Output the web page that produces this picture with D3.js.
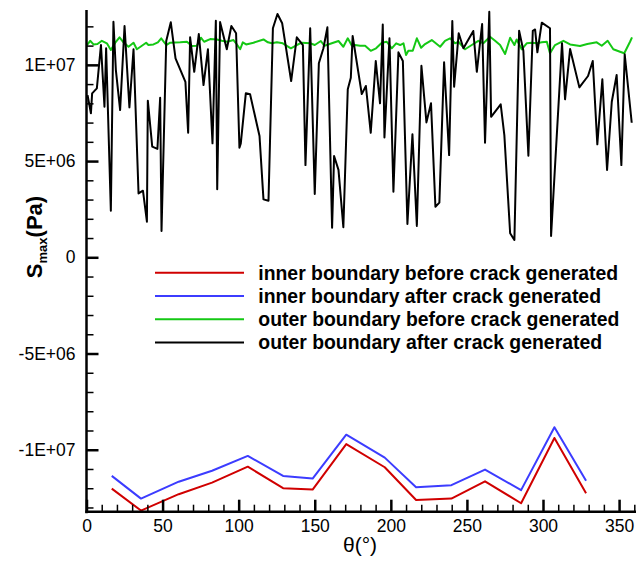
<!DOCTYPE html>
<html>
<head>
<meta charset="utf-8">
<script src="https://cdn.jsdelivr.net/npm/d3@7"></script>
<style>
  html, body { margin: 0; padding: 0; background: #fff; }
  svg { display: block; font-family: "Liberation Sans", Arial, Helvetica, sans-serif; }
</style>
</head>
<body>
<svg id="chart" width="636" height="561"></svg>
<script>
// Angle (degrees) and S_max values (units of 1E6 Pa) for each boundary curve
const innerTheta = [16.6, 35.8, 60.6, 82.5, 106.0, 129.2, 148.6, 170.7, 196.0, 216.6, 239.8, 261.9, 285.6, 307.5, 328.3];
const innerBefore = [-12.02, -13.16, -12.31, -11.71, -10.88, -12.00, -12.07, -9.71, -10.91, -12.61, -12.54, -11.64, -12.78, -9.39, -12.26];
const innerAfter = [-11.36, -12.54, -11.66, -11.09, -10.32, -11.36, -11.50, -9.22, -10.41, -11.95, -11.84, -11.03, -12.10, -8.83, -11.61];

const outerBeforeTheta = [0.3, 2.4, 4.6, 7.2, 10.1, 13.4, 16.0, 18.9, 21.7, 24.3, 27.6, 30.9, 33.1, 36.4, 39.2, 40.7, 44.0, 46.9, 49.1, 52.4,
  55.0, 61.6, 66.0, 69.2, 72.5, 75.2, 77.3, 81.3, 85.7, 88.9, 92.6, 96.6, 98.3, 101.0, 102.7, 104.9, 109.7, 116.3, 119.2, 121.8,
  125.1, 129.0, 134.3, 138.2, 141.5, 147.0, 150.0, 154.0, 156.4, 161.2, 165.6, 168.8, 171.7, 174.4, 176.5, 179.8, 183.1, 186.8, 190.3, 194.1,
  197.3, 200.6, 203.5, 206.1, 208.3, 210.0, 211.5, 214.4, 217.1, 219.9, 222.5, 226.9, 232.4, 235.6, 238.9, 242.2, 244.4, 248.8, 253.2, 257.5,
  260.8, 265.2, 268.5, 271.8, 275.1, 278.4, 281.2, 282.7, 286.0, 289.3, 292.6, 295.9, 299.2, 302.5, 304.6, 307.9, 313.4, 317.8, 324.3, 329.1,
  335.3, 338.6, 342.5, 346.2, 350.6, 353.4, 357.2, 358.5];
const outerBefore = [11.03, 11.25, 11.06, 11.08, 11.25, 11.12, 10.77, 11.15, 11.43, 11.17, 10.94, 11.15, 10.81, 10.99, 11.15, 11.03, 11.06, 11.17, 11.38, 11.03,
  11.15, 11.17, 11.20, 10.98, 10.99, 11.41, 11.20, 11.34, 11.32, 11.25, 11.20, 11.29, 11.12, 10.81, 11.17, 11.06, 11.15, 11.32, 11.17, 11.12,
  11.17, 11.12, 10.86, 11.03, 11.15, 11.12, 11.03, 11.24, 10.99, 11.12, 11.24, 10.94, 11.38, 10.99, 11.03, 10.99, 10.99, 10.73, 10.86, 11.15,
  11.20, 10.86, 11.12, 11.03, 11.12, 10.51, 10.73, 10.73, 11.38, 10.89, 11.08, 11.29, 10.94, 11.25, 11.38, 11.12, 11.20, 10.81, 11.03, 11.25,
  11.12, 11.46, 11.25, 11.03, 10.56, 11.41, 11.03, 11.32, 10.81, 11.12, 11.15, 11.12, 11.17, 11.20, 10.60, 11.03, 11.25, 11.06, 10.98, 11.08,
  11.17, 10.99, 11.25, 10.81, 10.68, 10.60, 11.20, 11.43];

const outerAfterTheta = [0.7, 2.9, 3.7, 6.8, 9.5, 11.8, 12.9, 16.0, 17.7, 19.3, 22.1, 25.0, 28.2, 30.9, 34.2, 37.1, 39.7, 40.3, 43.2, 46.6,
  48.4, 49.3, 52.4, 55.4, 58.5, 65.0, 66.8, 68.1, 70.8, 73.8, 76.9, 79.8, 82.8, 85.0, 85.9, 87.8, 89.6, 92.2, 95.2, 98.3,
  100.5, 101.4, 104.7, 107.5, 113.7, 116.3, 119.6, 122.5, 125.5, 128.6, 134.5, 138.2, 142.2, 143.9, 147.0, 150.0, 152.7, 155.7, 158.3, 161.4,
  162.7, 165.6, 168.8, 171.7, 173.7, 174.9, 180.9, 183.6, 186.8, 190.1, 192.9, 194.7, 195.8, 199.1, 201.7, 205.0, 207.9, 210.9, 214.2, 217.1,
  220.1, 223.4, 226.4, 229.3, 231.9, 235.0, 238.3, 240.4, 241.6, 244.6, 247.7, 254.2, 256.5, 260.0, 261.9, 264.7, 265.9, 272.2, 274.6, 278.4,
  281.2, 284.3, 287.1, 290.4, 293.3, 294.8, 296.3, 299.2, 304.6, 305.3, 312.5, 314.5, 317.8, 323.9, 329.6, 332.7, 335.7, 339.0, 342.1, 345.2,
  348.4, 351.5, 353.7, 358.3];
const outerAfter = [8.43, 7.48, 8.52, 8.78, 11.03, 7.82, 10.86, 2.42, 12.24, 9.73, 7.65, 12.02, 7.79, 10.81, 3.32, 3.46, 1.85, 8.14, 5.75, 5.63,
  8.29, 1.37, 11.24, 12.21, 10.34, 9.12, 6.47, 11.43, 9.64, 11.60, 8.95, 10.81, 5.92, 12.29, 3.53, 12.22, 11.64, 10.81, 12.02, 11.64,
  5.69, 5.92, 8.52, 8.47, 6.30, 3.01, 2.94, 11.90, 12.64, 12.16, 9.16, 11.43, 11.03, 4.79, 11.90, 3.29, 10.08, 10.86, 11.95, 1.54,
  5.26, 4.54, 1.56, 8.73, 9.33, 11.50, 8.48, 8.90, 6.47, 10.20, 8.00, 12.10, 6.23, 11.38, 3.41, 10.65, 10.20, 1.73, 6.39, 1.63,
  9.95, 7.01, 8.00, 2.63, 2.84, 10.13, 5.31, 12.28, 8.86, 11.64, 10.86, 11.76, 9.64, 12.12, 5.95, 12.76, 7.30, 7.95, 6.35, 1.25,
  0.90, 11.77, 10.73, 5.28, 11.77, 11.84, 10.65, 12.19, 11.90, 1.11, 11.12, 8.21, 10.82, 8.83, 9.42, 10.20, 5.87, 9.25, 4.54, 8.08,
  9.47, 4.79, 10.55, 6.99];

const seriesNames = [
  "inner boundary before crack generated",
  "inner boundary after crack generated",
  "outer boundary before crack generated",
  "outer boundary after crack generated"
];
const seriesColors = ["#d00000", "#3c3cff", "#14c814", "#000000"];

const xMajorTicks = [0, 50, 100, 150, 200, 250, 300, 350];
const yMajorTicks = [-10, -5, 0, 5, 10];

// Layout
const plot = { left: 86.5, right: 634.3, top: 10, bottom: 511.7 };

const svg = d3.select("#chart");
const x = d3.scaleLinear().domain([0, 360]).range([plot.left, plot.right]);
const y = d3.scaleLinear().domain([-13.22, 12.85]).range([plot.bottom, plot.top]);

// Tick labels in exponent style, e.g. 1E+07, -5E+06
function expLabel(v) {
  const pa = Math.round(v * 1e6);
  if (pa === 0) return "0";
  const a = Math.abs(pa);
  const e = Math.floor(Math.log10(a) + 1e-9);
  const m = Math.round(a / Math.pow(10, e));
  return (pa < 0 ? "-" : "") + m + "E+" + String(e).padStart(2, "0");
}

svg.append("defs").append("clipPath").attr("id", "plotClip")
  .append("rect")
  .attr("x", plot.left).attr("y", plot.top)
  .attr("width", plot.right - plot.left + 2).attr("height", plot.bottom - plot.top);

// Data curves
const series = [
  { theta: innerTheta, vals: innerBefore },
  { theta: innerTheta, vals: innerAfter },
  { theta: outerBeforeTheta, vals: outerBefore },
  { theta: outerAfterTheta, vals: outerAfter }
];
const line = d3.line().x(d => x(d[0])).y(d => y(d[1]));
const curves = svg.append("g").attr("clip-path", "url(#plotClip)");
series.forEach((s, i) => {
  curves.append("path")
    .datum(s.theta.map((t, k) => [t, s.vals[k]]))
    .attr("d", line)
    .attr("fill", "none")
    .attr("stroke", seriesColors[i])
    .attr("stroke-width", 2)
    .attr("stroke-linejoin", "round");
});

// Axes: ticks drawn inward
const xMinor = d3.axisBottom(x).tickValues(d3.range(0, 361, 10).filter(v => v % 50 !== 0))
  .tickSize(-7).tickSizeOuter(0).tickFormat("");
const xMajor = d3.axisBottom(x).tickValues(xMajorTicks)
  .tickSize(-12).tickSizeOuter(0).tickPadding(8).tickFormat(d3.format("d"));
const yMinor = d3.axisLeft(y).tickValues(d3.range(-13, 13, 1).filter(v => v % 5 !== 0))
  .tickSize(-7).tickSizeOuter(0).tickFormat("");
const yMajor = d3.axisLeft(y).tickValues(yMajorTicks)
  .tickSize(-12).tickSizeOuter(0).tickPadding(11).tickFormat(expLabel);

function styleAxis(g, tickWidth) {
  g.select(".domain").remove();
  g.selectAll(".tick line").attr("stroke", "#000").attr("stroke-width", tickWidth);
  g.selectAll(".tick text").attr("fill", "#000")
    .style("font-size", "17.5px")
    .style("font-family", "'Liberation Sans', Arial, sans-serif");
}

svg.append("g").attr("transform", `translate(0,${plot.bottom})`).call(xMinor).call(g => styleAxis(g, 1.5));
svg.append("g").attr("transform", `translate(0,${plot.bottom})`).call(xMajor).call(g => styleAxis(g, 2.5));
svg.append("g").attr("transform", `translate(${plot.left},0)`).call(yMinor).call(g => styleAxis(g, 1.5));
svg.append("g").attr("transform", `translate(${plot.left},0)`).call(yMajor).call(g => styleAxis(g, 2.5));

// Axis lines
svg.append("line").attr("x1", plot.left).attr("x2", plot.left)
  .attr("y1", plot.top).attr("y2", plot.bottom + 1.5)
  .attr("stroke", "#000").attr("stroke-width", 2.5);
svg.append("line").attr("x1", plot.left - 1.2).attr("x2", plot.right + 2)
  .attr("y1", plot.bottom).attr("y2", plot.bottom)
  .attr("stroke", "#000").attr("stroke-width", 2.5);

// Axis titles
svg.append("text")
  .attr("x", 360).attr("y", 552)
  .attr("text-anchor", "middle")
  .style("font-size", "21px")
  .text("θ(°)");

const yTitle = svg.append("text")
  .attr("transform", "translate(41.5,237) rotate(-90)")
  .attr("text-anchor", "middle")
  .style("font-size", "22px")
  .style("font-weight", "bold");
yTitle.append("tspan").text("S");
yTitle.append("tspan").attr("dy", 5).style("font-size", "13px").text("max");
yTitle.append("tspan").attr("dy", -5).text("(Pa)");

// Legend
const legend = svg.append("g");
seriesNames.forEach((name, i) => {
  const ly = 272.7 + i * 23.3;
  legend.append("line")
    .attr("x1", 155).attr("x2", 244).attr("y1", ly).attr("y2", ly)
    .attr("stroke", seriesColors[i]).attr("stroke-width", 2);
  legend.append("text")
    .attr("x", 258.3).attr("y", ly + 6.8)
    .style("font-size", "19.4px")
    .style("font-weight", "bold")
    .text(name);
});
</script>
</body>
</html>
